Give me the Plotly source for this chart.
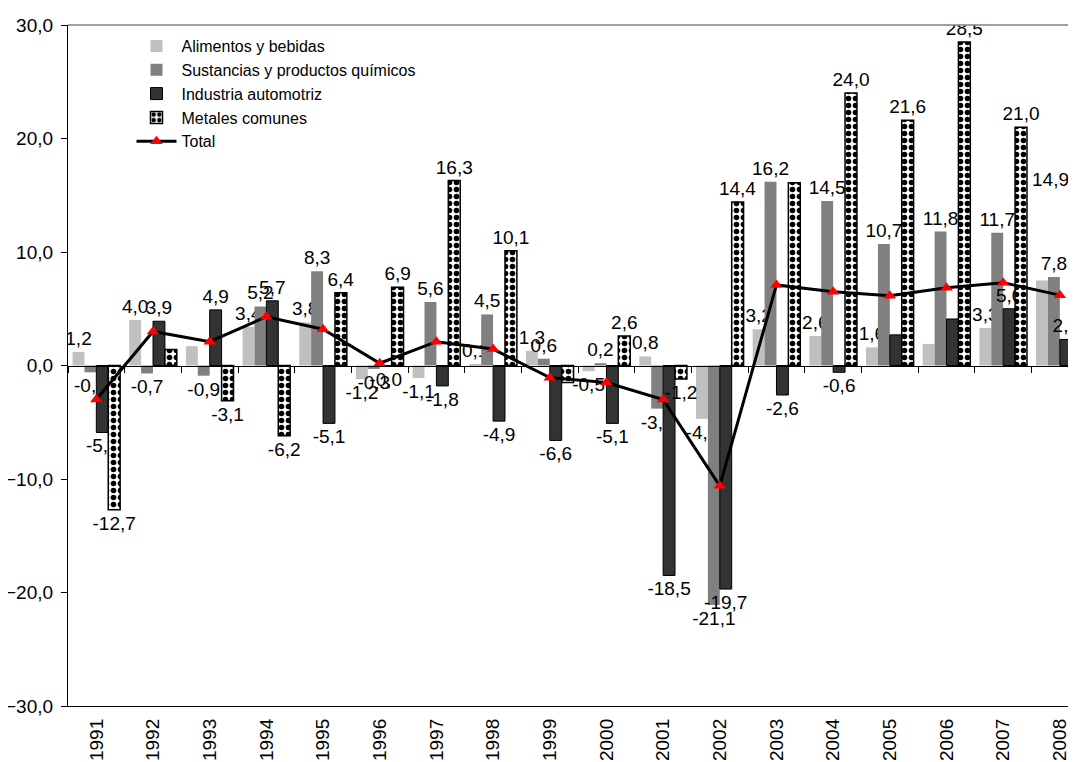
import plotly.graph_objects as go

years = [str(y) for y in range(1991, 2009)]

alimentos = [1.2, 4.0, 1.7, 3.4, 3.8, -1.2, -1.1, 0.1, 1.3, -0.5, 0.8, -4.7, 3.2, 2.6, 1.6, 1.9, 3.3, 7.5]
sustancias = [-0.6, -0.7, -0.9, 5.2, 8.3, -0.3, 5.6, 4.5, 0.6, 0.2, -3.8, -21.1, 16.2, 14.5, 10.7, 11.8, 11.7, 7.8]
automotriz = [-5.9, 3.9, 4.9, 5.7, -5.1, -0.04, -1.8, -4.9, -6.6, -5.1, -18.5, -19.7, -2.6, -0.6, 2.7, 4.1, 5.0, 2.3]
metales = [-12.7, 1.4, -3.1, -6.2, 6.4, 6.9, 16.3, 10.1, -1.5, 2.6, -1.2, 14.4, 16.1, 24.0, 21.6, 28.5, 21.0, 14.9]
total = [-3.0, 3.0, 2.1, 4.3, 3.2, 0.2, 2.1, 1.45, -1.07, -1.5, -3.0, -10.6, 7.1, 6.5, 6.15, 6.85, 7.3, 6.2]

names = ["Alimentos y bebidas", "Sustancias y productos químicos",
         "Industria automotriz", "Metales comunes", "Total"]

# data labels not shown in the original chart: (series index, year)
hidden_labels = {(0, "1993"), (0, "2006"), (0, "2008"), (2, "2005"), (2, "2006"),
                 (3, "1992"), (3, "1999"), (3, "2003")}
# labels drawn as annotations because the bar sits at the clipped right edge
edge_labels = {(3, "2008")}

FONT = "Liberation Sans, Arial, sans-serif"
FS = 19


def fmt(v):
    return f"{v:.1f}".replace(".", ",")


def labels(idx, vals):
    out = []
    for y, v in zip(years, vals):
        if (idx, y) in hidden_labels or (idx, y) in edge_labels:
            out.append("")
        else:
            out.append(fmt(v))
    return out


fig = go.Figure()

bar_styles = [
    dict(color="#C0C0C0", line=dict(width=0)),
    dict(color="#808080", line=dict(width=0)),
    dict(color="#333333", line=dict(width=1, color="black")),
    dict(color="white", line=dict(width=1.5, color="black"),
         pattern=dict(shape=".", fgcolor="black", bgcolor="white", size=7, solidity=0.5, fillmode="replace")),
]

series = [alimentos, sustancias, automotriz, metales]
for i, vals in enumerate(series):
    fig.add_trace(go.Bar(
        x=years, y=vals, name=names[i], marker=bar_styles[i],
        text=labels(i, vals), textposition="outside", constraintext="none",
        textfont=dict(family=FONT, size=FS, color="black"),
        cliponaxis=True,
    ))

fig.add_trace(go.Scatter(
    x=years, y=total, name=names[4], mode="lines+markers",
    line=dict(color="black", width=3),
    marker=dict(symbol="triangle-up", color="red", size=11),
))

# helper trace to carry the zero-line category axis
fig.add_trace(go.Scatter(x=[None], y=[None], xaxis="x2", yaxis="y",
                         showlegend=False, hoverinfo="skip"))

annotations = []
for (idx, yr) in edge_labels:
    k = years.index(yr)
    v = series[idx][k]
    annotations.append(dict(x=k, y=v, xref="x", yref="y", text=fmt(v), showarrow=False,
                            xanchor="center", yanchor="bottom", xshift=-9, yshift=4,
                            font=dict(family=FONT, size=FS, color="black")))

n = len(years)
xr = [-0.5, 17.285]
fig.update_layout(
    width=1068, height=754,
    margin=dict(l=60, r=0, t=17, b=56, autoexpand=False),
    paper_bgcolor="white", plot_bgcolor="white",
    separators=",.",
    barmode="group", bargap=0.16, bargroupgap=0,
    font=dict(family=FONT, size=FS, color="black"),
    showlegend=True,
    legend=dict(x=0.063, y=0.994, xanchor="left", yanchor="top",
                bgcolor="rgba(0,0,0,0)", font=dict(family=FONT, size=16, color="black"),
                tracegroupgap=0, itemwidth=40),
    xaxis=dict(type="category", categoryorder="array", categoryarray=years,
               range=xr, showline=True, linecolor="black", linewidth=1.3,
               ticks="", tickangle=-90, showgrid=False, zeroline=False, automargin=False,
               tickfont=dict(family=FONT, size=FS, color="black"),
               ticklabelstandoff=4),
    xaxis2=dict(overlaying="x", anchor="free", position=0.5, side="bottom",
                range=xr, tickmode="array", tickvals=[i - 0.5 for i in range(n + 1)],
                ticks="outside", ticklen=6, tickcolor="black", showticklabels=False,
                showline=True, linecolor="black", linewidth=1.3, showgrid=False,
                zeroline=False, automargin=False),
    yaxis=dict(range=[-30, 30], tickmode="array", tickvals=[-30, -20, -10, 0, 10, 20, 30],
               tickformat=".1f", ticks="outside", ticklen=6, tickcolor="black",
               showline=True, linecolor="black", linewidth=1.3, showgrid=False,
               zeroline=False, automargin=False, ticklabelstandoff=4,
               tickfont=dict(family=FONT, size=FS, color="black")),
    shapes=[dict(type="line", xref="paper", yref="paper", x0=0, x1=1, y0=1, y1=1,
                 line=dict(color="#808080", width=1.5))],
    annotations=annotations,
)

fig.write_html("out.html")
